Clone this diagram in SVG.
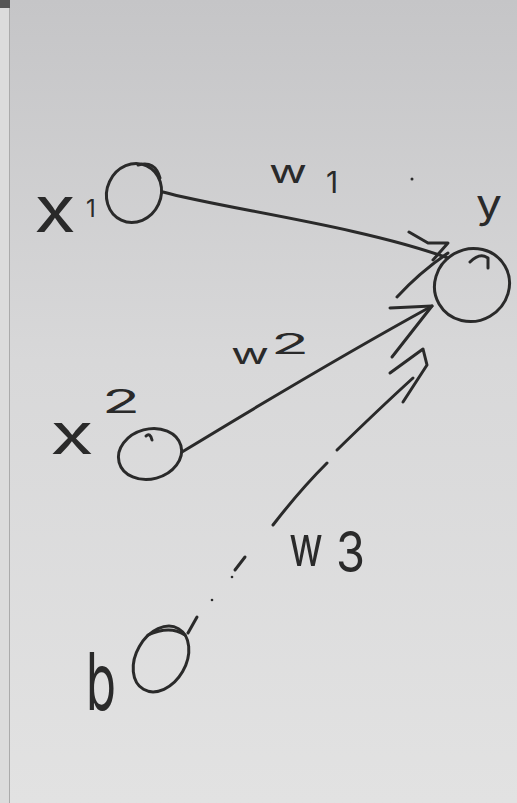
<svg xmlns="http://www.w3.org/2000/svg" width="517" height="803" viewBox="0 0 517 803">
  <defs>
    <linearGradient id="paper" x1="0" y1="0" x2="0" y2="1">
      <stop offset="0" stop-color="#c5c5c7"/>
      <stop offset="0.45" stop-color="#d8d8d9"/>
      <stop offset="1" stop-color="#e2e2e2"/>
    </linearGradient>
  </defs>
  <style>
    .ink { fill: none; stroke: #2a2a2a; stroke-width: 3; stroke-linecap: round; stroke-linejoin: round; }
    .lbl { fill: #2a2a2a; font-family: Inter, "Roboto", "DejaVu Sans", sans-serif; font-weight: 400; }
  </style>
  <rect x="0" y="0" width="517" height="803" fill="url(#paper)"/>
  <rect x="0" y="0" width="9" height="803" fill="#dcdcdc"/>
  <line x1="9.5" y1="0" x2="9.5" y2="803" stroke="#ababab" stroke-width="1"/>
  <rect x="0" y="0" width="10" height="8" fill="#555"/>

  <g id="connectors">
    <!-- w1 -->
    <path class="ink" d="M163,192 C220,208 360,226 448,258"/>
    <path class="ink" d="M409,232 L428,243 L448,243 L433,260"/>
    <!-- w2 -->
    <path class="ink" d="M182,452 Q330,362 432,306"/>
    <path class="ink" d="M397,297 Q420,272 448,253"/>
    <path class="ink" d="M390,308 L432,306 L392,357"/>
    <!-- w3 (dashed) -->
    <path class="ink" d="M188,633 L197,617"/>
    <circle cx="212" cy="600" r="1.3" fill="#2a2a2a"/>
    <circle cx="232" cy="577" r="1.3" fill="#2a2a2a"/>
    <path class="ink" d="M235,570 L245,557"/>
    <path class="ink" d="M273,525 Q300,490 327,463"/>
    <path class="ink" d="M337,450 Q380,408 413,378"/>
    <path class="ink" d="M390,373 L423,349 L427,365 L403,402"/>
  </g>

  <g id="node-x1">
    <ellipse class="ink" cx="134" cy="193" rx="27" ry="30" transform="rotate(25 134 193)"/>
    <path class="ink" d="M138,165 Q155,160 160,178"/>
    <text class="lbl"><tspan x="34" y="232" font-size="64" textLength="42" lengthAdjust="spacingAndGlyphs">x</tspan><tspan x="86" y="217" font-size="24">1</tspan></text>
  </g>

  <g id="node-x2">
    <ellipse class="ink" cx="150" cy="454" rx="32" ry="25" transform="rotate(-15 150 454)"/>
    <path class="ink" d="M146,436 Q150,432 152,440"/>
    <text class="lbl"><tspan x="50" y="454" font-size="56" textLength="44" lengthAdjust="spacingAndGlyphs">x</tspan><tspan x="102" y="413" font-size="32" textLength="38" lengthAdjust="spacingAndGlyphs">2</tspan></text>
  </g>

  <g id="node-b">
    <ellipse class="ink" cx="161" cy="659" rx="25" ry="35" transform="rotate(30 161 659)"/>
    <path class="ink" d="M148,635 Q170,625 185,635"/>
    <text class="lbl" x="86" y="710" font-size="80" textLength="30" lengthAdjust="spacingAndGlyphs">b</text>
  </g>

  <g id="node-y">
    <ellipse class="ink" cx="472" cy="285" rx="38" ry="36" transform="rotate(-30 472 285)"/>
    <path class="ink" d="M470,262 Q480,252 488,258 L488,268"/>
    <text class="lbl" x="476" y="218" font-size="40" textLength="26" lengthAdjust="spacingAndGlyphs">y</text>
  </g>

  <g id="labels">
    <text class="lbl"><tspan x="269" y="183" font-size="32" textLength="38" lengthAdjust="spacingAndGlyphs">w</tspan><tspan x="326" y="193" font-size="30">1</tspan></text>
    <text class="lbl"><tspan x="231" y="364" font-size="28" textLength="38" lengthAdjust="spacingAndGlyphs">w</tspan><tspan x="271" y="354" font-size="28" textLength="38" lengthAdjust="spacingAndGlyphs">2</tspan></text>
    <text class="lbl"><tspan x="289" y="566" font-size="56" textLength="34" lengthAdjust="spacingAndGlyphs">w</tspan><tspan x="336" y="572" font-size="56" textLength="29" lengthAdjust="spacingAndGlyphs">3</tspan></text>
    <circle cx="412" cy="179" r="1.5" fill="#2a2a2a"/>
  </g>
</svg>
